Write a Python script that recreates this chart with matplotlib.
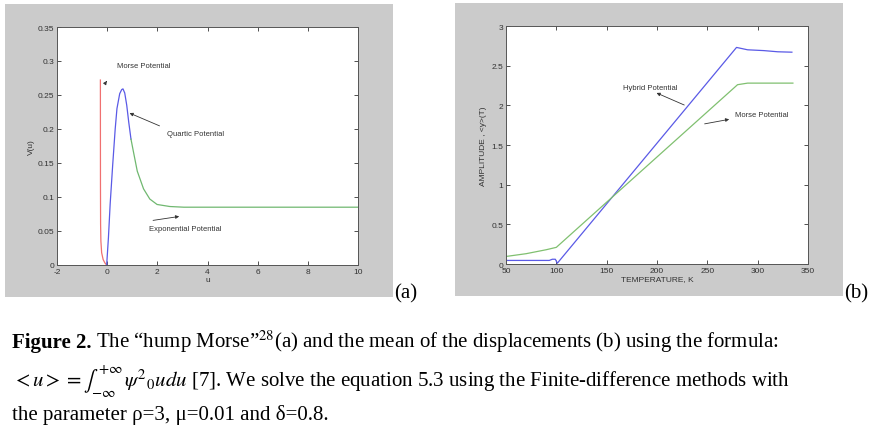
import matplotlib.pyplot as plt
from matplotlib.patches import Rectangle

W, H = 871, 431

# (a) hump Morse
morse_u = [-0.27, -0.269, -0.267, -0.262, -0.25, -0.22, -0.16, -0.09, -0.02]
morse_v = [0.272, 0.2, 0.12, 0.06, 0.035, 0.018, 0.008, 0.003, 0.0]
quartic_u = [-0.02, 0.05, 0.12, 0.22, 0.32, 0.39, 0.5, 0.58, 0.63, 0.7, 0.78, 0.86, 0.95]
quartic_v = [0.0, 0.04, 0.09, 0.147, 0.2, 0.23, 0.252, 0.258, 0.259, 0.253, 0.235, 0.21, 0.185]
expo_u = [0.95, 1.05, 1.2, 1.45, 1.7, 1.99, 2.5, 3.06, 4.0, 6.0, 8.0, 10.0]
expo_v = [0.185, 0.166, 0.138, 0.112, 0.097, 0.089, 0.086, 0.085, 0.085, 0.085, 0.085, 0.085]

# (b) amplitude vs temperature
temp_hyb = [50, 93, 96, 99, 101, 279, 290, 306, 320, 334]
amp_hyb = [0.045, 0.045, 0.06, 0.06, 0.01, 2.73, 2.70, 2.69, 2.675, 2.67]
temp_mor = [50, 70, 90, 100, 280, 290, 310, 335]
amp_mor = [0.095, 0.13, 0.18, 0.21, 2.26, 2.28, 2.28, 2.28]

plt.rcParams['mathtext.fontset'] = 'stix'
plt.rcParams['axes.unicode_minus'] = False
sans = 'Liberation Sans'
serif = 'Liberation Serif'

fig = plt.figure(figsize=(W / 100, H / 100), dpi=100)
fig.patch.set_facecolor('white')


def frac(x0, y0, x1, y1):
    return [x0 / W, 1 - y1 / H, (x1 - x0) / W, (y1 - y0) / H]


# grey window backgrounds
for x0, y0, x1, y1 in [(5, 5, 393, 298), (455, 4, 843, 297)]:
    l, b, w, h = frac(x0, y0, x1, y1)
    fig.patches.append(Rectangle((l, b), w, h, transform=fig.transFigure,
                                 facecolor='#cbcbcb', edgecolor='none', zorder=-10))


def style(ax):
    ax.set_zorder(5)
    ax.tick_params(direction='in', length=3, width=0.6, top=True, right=True,
                   labelsize=6, colors='#333333', pad=2)
    for s in ax.spines.values():
        s.set_linewidth(0.7)
        s.set_color('#555555')
    for lab in ax.get_xticklabels() + ax.get_yticklabels():
        lab.set_family(sans)


ax1 = fig.add_axes(frac(57, 28, 358, 266))
ax1.plot(morse_u, morse_v, color='#f07070', lw=0.9)
ax1.plot(quartic_u, quartic_v, color='#5a5ae6', lw=0.9)
ax1.plot(expo_u, expo_v, color='#70b870', lw=0.9)
ax1.set_xlim(-2, 10)
ax1.set_ylim(0, 0.35)
ax1.set_xticks([-2, 0, 2, 4, 6, 8, 10])
ax1.set_yticks([0, 0.05, 0.1, 0.15, 0.2, 0.25, 0.3, 0.35])
ax1.set_yticklabels(['0', '0.05', '0.1', '0.15', '0.2', '0.25', '0.3', '0.35'])
ax1.set_xlabel('u', fontsize=6, family=sans, labelpad=1, color='#333333')
ax1.set_ylabel('V(u)', fontsize=6, family=sans, labelpad=2, color='#333333')
style(ax1)
arr = dict(arrowstyle='-|>', color='#333333', lw=0.6, mutation_scale=5)
ax1.annotate('', xy=(0.05, 0.274), xytext=(-0.1, 0.266), arrowprops=arr)
ax1.text(0.4, 0.294, 'Morse Potential', fontsize=5.5, family=sans, va='center', color='#333333')
ax1.annotate('', xy=(0.79, 0.225), xytext=(2.19, 0.203), arrowprops=arr)
ax1.text(2.39, 0.194, 'Quartic Potential', fontsize=5.5, family=sans, va='center', color='#333333')
ax1.annotate('', xy=(2.98, 0.072), xytext=(1.72, 0.065), arrowprops=arr)
ax1.text(1.68, 0.054, 'Exponential Potential', fontsize=5.5, family=sans, va='center', color='#333333')

ax2 = fig.add_axes(frac(506, 27, 808, 265))
ax2.plot(temp_hyb, amp_hyb, color='#5a5ae6', lw=0.9)
ax2.plot(temp_mor, amp_mor, color='#80c070', lw=0.9)
ax2.set_xlim(50, 350)
ax2.set_ylim(0, 3)
ax2.set_xticks([50, 100, 150, 200, 250, 300, 350])
ax2.set_yticks([0, 0.5, 1, 1.5, 2, 2.5, 3])
ax2.set_yticklabels(['0', '0.5', '1', '1.5', '2', '2.5', '3'])
ax2.set_xlabel('TEMPERATURE, K', fontsize=6, family=sans, labelpad=1, color='#333333')
ax2.set_ylabel('AMPLITUDE , <y>(T)', fontsize=6, family=sans, labelpad=3, color='#333333')
style(ax2)
ax2.annotate('', xy=(197, 2.17), xytext=(229.6, 1.99), arrowprops=arr)
ax2.text(166, 2.22, 'Hybrid Potential', fontsize=5.5, family=sans, va='center', color='#333333')
ax2.annotate('', xy=(274.4, 1.83), xytext=(244.6, 1.76), arrowprops=arr)
ax2.text(277.7, 1.88, 'Morse Potential', fontsize=5.5, family=sans, va='center', color='#333333')

# panel letters
fig.text(394 / W, 1 - 298 / H, '(a)', fontsize=15, family=serif, va='baseline')
fig.text(844 / W, 1 - 298 / H, '(b)', fontsize=15, family=serif, va='baseline')

# caption
fs = 15
bold = fig.text(12 / W, 1 - 348 / H, 'Figure 2.', fontsize=fs, family=serif, weight='bold', va='baseline')
fig.canvas.draw()
x_end = bold.get_window_extent().x1
fig.text((x_end + 4) / W, 1 - 348 / H,
         'The \u201chump Morse\u201d$^{28}$(a) and the mean of the displacements (b) using the formula:',
         fontsize=fs, family=serif, va='baseline')
fig.text(12 / W, 1 - 387 / H,
         r'$<u>=\int_{-\infty}^{+\infty}\,\psi^2{}_0udu$ [7]. We solve the equation 5.3 using the Finite-difference methods with',
         fontsize=fs, family=serif, va='baseline')
fig.text(12 / W, 1 - 420 / H, 'the parameter \u03c1=3, \u03bc=0.01 and \u03b4=0.8.',
         fontsize=fs, family=serif, va='baseline')

fig.savefig('out.png', dpi=100)
